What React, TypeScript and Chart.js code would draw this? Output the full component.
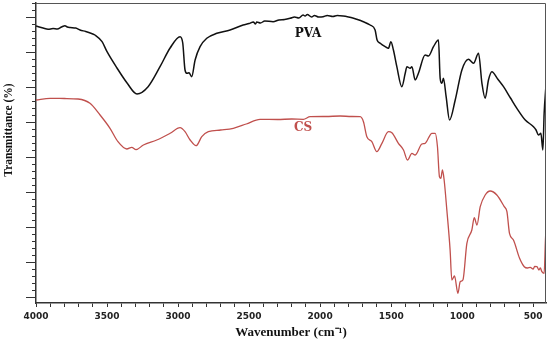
import React, { useEffect, useRef } from "react";
import { Chart, registerables } from "chart.js";

Chart.register(...registerables);

// Wavenumber (cm-1) and relative transmittance (arbitrary units)
const pvaWavenumbers = [
  4000, 3950, 3915, 3880, 3850, 3820, 3796, 3780, 3760, 3720, 3690, 3650, 3600, 3585, 3535, 3500,
  3430, 3359, 3289, 3211, 3127, 3056, 2986, 2967, 2951, 2937, 2923, 2904, 2880, 2845, 2798, 2727,
  2634, 2542, 2500, 2470, 2455, 2446, 2420, 2390, 2331, 2290, 2250, 2211, 2180, 2150, 2120, 2106,
  2090, 2060, 2040, 2010, 1979, 1950, 1910, 1880, 1838, 1800, 1770, 1742, 1700, 1648, 1613, 1599,
  1577, 1542, 1519, 1502, 1484, 1460, 1425, 1401, 1389, 1366, 1354, 1331, 1308, 1261, 1237, 1202,
  1167, 1155, 1143, 1132, 1113, 1089, 1049, 1002, 956, 920, 885, 861, 838, 815, 791, 750,
  709, 660, 615, 556, 498, 480, 463, 446, 432, 423, 411,
];
const pvaValues = [
  277, 275, 273.7, 274.5, 274, 276, 277.3, 276, 275.5, 275, 273, 271.5, 269, 268, 261.3, 251.3,
  235, 220, 209, 216.3, 236.3, 255, 266.3, 260, 233, 229.7, 230.3, 226.3, 243, 256.3, 264.7, 269.7,
  273, 278, 279.5, 281, 279, 281, 280, 282, 281.3, 283, 283.5, 284.7, 286, 285, 288, 287,
  288.5, 286, 287.5, 286, 286.3, 287.5, 286.5, 287.5, 287, 286, 285, 283.7, 281.5, 278, 273, 263,
  259.7, 256.3, 254.7, 261.3, 253, 236.3, 216.3, 229.7, 236.3, 234.7, 236.3, 223, 229.7, 248, 247, 256.3,
  263, 224.7, 219.7, 224.7, 206.3, 183, 203, 233, 243.7, 239.7, 249.7, 219.7, 204.7, 223, 231.3, 224,
  216.3, 205, 194.7, 183, 176.3, 173, 168, 169.7, 153, 189.7, 216,
];

const csWavenumbers = [
  4000, 3901, 3800, 3704, 3620, 3549, 3479, 3423, 3361, 3326, 3296, 3244, 3150, 3056, 2986, 2951,
  2915, 2873, 2833, 2787, 2700, 2611, 2520, 2423, 2300, 2200, 2118, 2070, 1960, 1859, 1780, 1718,
  1695, 1671, 1636, 1601, 1565, 1519, 1495, 1449, 1413, 1385, 1354, 1331, 1284, 1261, 1213, 1190,
  1174, 1160, 1150, 1139, 1127, 1108, 1085, 1073, 1054, 1030, 1014, 995, 967, 932, 915, 896,
  873, 838, 803, 756, 704, 685, 667, 639, 596, 563, 540, 521, 500, 490, 474, 460,
  450, 439, 423, 414, 411,
];
const csValues = [
  203, 204.7, 204.5, 204, 199.7, 188, 174.7, 161.3, 154, 155.7, 153.3, 158, 163, 169.7, 175.3, 171.3,
  163, 157.3, 166.3, 171.3, 173, 174.7, 179, 183.7, 183.5, 184, 183.7, 186.3, 186.5, 187, 186.5, 186.3,
  181.3, 166.3, 161.3, 151.3, 159.7, 171.3, 170.3, 159.7, 153, 143, 149.7, 148, 159, 159.7, 169.7, 169.7,
  156.3, 126.3, 124.7, 133, 123, 93, 53, 23, 27, 9.7, 21.3, 23, 59.7, 73, 85.3, 78,
  96.3, 108, 112, 108, 96.3, 91.3, 69.7, 63, 44.7, 36.3, 35, 35.7, 34, 36.5, 36.3, 33,
  35, 31.3, 29.7, 63, 72,
];

const seriesNames = ["PVA", "CS"];
const seriesColors = ["#111111", "#c0504d"];
const xTickLabels = [4000, 3500, 3000, 2500, 2000, 1500, 1000, 500];
const xAxisTitle = "Wavenumber (cm\u207B\u00B9)";
const yAxisTitle = "Transmittance (%)";

// annotation anchors (data coordinates) for the series names
const labelAnchors = [
  { x: 2085, y: 269 },
  { x: 2120, y: 175 },
];

// x minor tick step; y-axis tick marks (no labels)
const xMinorStep = 100;
const yTickStart = 6;
const yTickStep = 7;
const yMinorPerMajor = 5;

export default function App() {
  const ref = useRef<HTMLCanvasElement>(null);

  useEffect(() => {
    document.body.style.margin = "0";
    const canvas = ref.current;
    if (!canvas) return;

    const decorPlugin = {
      id: "decor",
      afterDraw(chart: any) {
        const { ctx, chartArea: a, scales } = chart;
        const xs = scales.x;
        const ys = scales.y;
        ctx.save();
        // top and right frame
        ctx.strokeStyle = "#555";
        ctx.lineWidth = 1;
        ctx.beginPath();
        ctx.moveTo(a.left, a.top + 0.5);
        ctx.lineTo(a.right - 0.5, a.top + 0.5);
        ctx.lineTo(a.right - 0.5, a.bottom);
        ctx.stroke();
        // y tick marks
        ctx.strokeStyle = "#333";
        ctx.lineWidth = 1;
        for (let i = 0; ; i++) {
          const v = yTickStart + i * yTickStep;
          if (v > ys.max) break;
          const p = Math.round(ys.getPixelForValue(v)) + 0.5;
          const len = i % yMinorPerMajor === 0 ? 10 : 4;
          ctx.beginPath();
          ctx.moveTo(a.left - len, p);
          ctx.lineTo(a.left, p);
          ctx.stroke();
        }
        // y axis title
        ctx.save();
        ctx.translate(9, 130);
        ctx.rotate(-Math.PI / 2);
        ctx.font = "bold 11.5px 'Liberation Serif'";
        ctx.textAlign = "center";
        ctx.textBaseline = "middle";
        ctx.fillStyle = "#111";
        ctx.fillText(yAxisTitle, 0, 0);
        ctx.restore();
        // series labels
        ctx.font = "bold 12px 'DejaVu Serif'";
        ctx.textAlign = "center";
        ctx.textBaseline = "middle";
        seriesNames.forEach((name, i) => {
          ctx.fillStyle = seriesColors[i];
          ctx.fillText(
            name,
            xs.getPixelForValue(labelAnchors[i].x),
            ys.getPixelForValue(labelAnchors[i].y)
          );
        });
        ctx.restore();
      },
    };

    const toPoints = (xsArr: number[], ysArr: number[]) =>
      xsArr.map((x, i) => ({ x, y: ysArr[i] }));

    const chart = new Chart(canvas, {
      type: "line",
      data: {
        datasets: [
          {
            label: seriesNames[0],
            data: toPoints(pvaWavenumbers, pvaValues),
            borderColor: seriesColors[0],
            borderWidth: 1.5,
            pointRadius: 0,
            cubicInterpolationMode: "monotone",
          },
          {
            label: seriesNames[1],
            data: toPoints(csWavenumbers, csValues),
            borderColor: seriesColors[1],
            borderWidth: 1.3,
            pointRadius: 0,
            cubicInterpolationMode: "monotone",
          },
        ],
      },
      options: {
        animation: false,
        responsive: false,
        layout: { padding: { top: 3, right: 4, left: 0, bottom: 0 } },
        plugins: { legend: { display: false }, tooltip: { enabled: false } },
        scales: {
          x: {
            type: "linear",
            reverse: true,
            min: 410,
            max: 4000,
            afterBuildTicks: (s: any) => {
              const ticks: { value: number }[] = [];
              for (
                let v = Math.ceil(s.min / xMinorStep) * xMinorStep;
                v <= s.max;
                v += xMinorStep
              ) {
                ticks.push({ value: v });
              }
              s.ticks = ticks;
            },
            afterFit: (s: any) => {
              s.height = 36;
            },
            ticks: {
              autoSkip: false,
              maxRotation: 0,
              padding: 4,
              color: "#222",
              font: { family: "'DejaVu Sans'", size: 9, weight: "bold" },
              callback: (v: any) => (xTickLabels.includes(Number(v)) ? String(v) : ""),
            },
            grid: {
              drawOnChartArea: false,
              drawTicks: true,
              tickLength: 4,
              color: "#333",
              lineWidth: 1,
            },
            border: { display: true, color: "#333", width: 1.5 },
            title: {
              display: true,
              text: xAxisTitle,
              color: "#111",
              font: { family: "'Liberation Serif'", size: 13, weight: "bold", lineHeight: 1 },
              padding: { top: 0, bottom: 0 },
            },
          },
          y: {
            type: "linear",
            min: 0,
            max: 300,
            afterFit: (s: any) => {
              s.width = 36;
            },
            ticks: { display: false },
            grid: { drawOnChartArea: false, drawTicks: false },
            border: { display: true, color: "#333", width: 1.5 },
            title: { display: false },
          },
        },
      },
      plugins: [decorPlugin],
    });

    return () => chart.destroy();
  }, []);

  return (
    <canvas ref={ref} width={550} height={339} style={{ display: "block" }} />
  );
}
